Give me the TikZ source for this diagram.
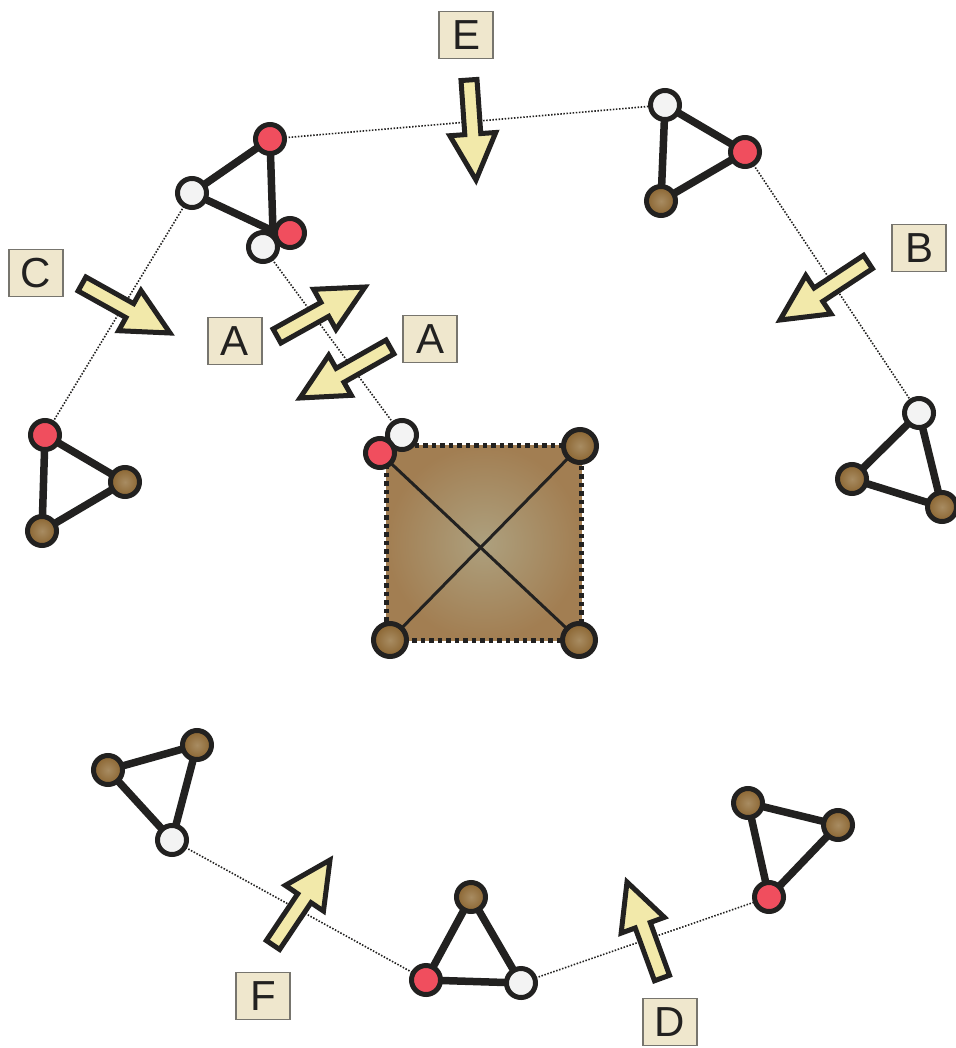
\documentclass[tikz,border=0pt]{standalone}
\usepackage{fontspec}
\setmainfont{Liberation Sans}
\usetikzlibrary{calc}
\definecolor{ol}{HTML}{222120}
\definecolor{nred}{HTML}{F04E5E}
\definecolor{nwhite}{HTML}{F3F3F3}
\definecolor{brin}{HTML}{A88C62}
\definecolor{brout}{HTML}{8A6430}
\definecolor{sqin}{HTML}{ADA07E}
\definecolor{sqout}{HTML}{A27E52}
\definecolor{labf}{HTML}{EFE7CD}
\definecolor{labb}{HTML}{77756E}
\definecolor{arrf}{HTML}{F2E9AA}
\tikzset{
  vbase/.style={circle,draw=ol,line width=5pt,minimum size=29pt,inner sep=0pt},
  vred/.style={vbase,fill=nred},
  vwhite/.style={vbase,fill=nwhite},
  vbrown/.style={vbase,inner color=brin,outer color=brout},
  vbig/.style={vbrown,minimum size=33pt},
  edge/.style={draw=ol,line width=7.5pt},
  diag/.style={draw=ol,line width=3pt},
  link/.style={draw=ol,line width=1.6pt,dash pattern=on 1.5pt off 1.6pt},
  lab/.style={draw=labb,line width=1.2pt,fill=labf,minimum width=54pt,minimum height=47pt,inner sep=0pt,font=\fontsize{42}{42}\selectfont,text=ol},
  arrsty/.style={draw=ol,fill=arrf,line width=5pt,line join=miter,miter limit=10},
  sqsty/.style={rectangle,minimum size=195pt,inner sep=0pt,inner color=sqin,outer color=sqout,draw=ol,line width=4.5pt,dash pattern=on 4.5pt off 4pt}
}
\newcommand{\barrow}[2]{%
  \coordinate (hb) at ($(#2)!46pt!(#1)$);
  \draw[arrsty] ($(#1)!8pt!90:(#2)$) -- ($(hb)!8pt!90:(#2)$) -- ($(hb)!23pt!90:(#2)$)
    -- (#2) -- ($(hb)!23pt!-90:(#2)$) -- ($(hb)!8pt!-90:(#2)$) -- ($(#1)!8pt!-90:(#2)$) -- cycle;
}
\begin{document}
\begin{tikzpicture}[x=1pt,y=-1pt]
\useasboundingbox (0,0) rectangle (955,1048);
% square
\node[sqsty] (sq) at (484,543) {};
% coordinates of nodes
\coordinate (tlR1) at (270,139);
\coordinate (tlW1) at (192,193);
\coordinate (tlV) at (273,231);
\coordinate (tlR2) at (290,233);
\coordinate (tlW2) at (263,247);
\coordinate (trW) at (665,105);
\coordinate (trR) at (745,152);
\coordinate (trB) at (661,201);
\coordinate (rW) at (919,413);
\coordinate (rB1) at (852,479);
\coordinate (rB2) at (942,507);
\coordinate (lR) at (45,435);
\coordinate (lB1) at (125,482);
\coordinate (lB2) at (42,531);
\coordinate (blB1) at (197,745);
\coordinate (blB2) at (108,770);
\coordinate (blW) at (172,840);
\coordinate (bcB) at (471,897);
\coordinate (bcR) at (426,980);
\coordinate (bcW) at (521,983);
\coordinate (brB1) at (748,803);
\coordinate (brB2) at (838,825);
\coordinate (brR) at (769,897);
\coordinate (sqW) at (402,435);
\coordinate (sqR) at (380,453);
\coordinate (sqTR) at (580,446);
\coordinate (sqBL) at (390,640);
\coordinate (sqBR) at (579,640);
% dotted links
\draw[link] (tlR1) -- (trW);
\draw[link] (tlW1) -- (lR);
\draw[link] (tlW2) -- (sqW);
\draw[link] (trR) -- (rW);
\draw[link] (blW) -- (bcR);
\draw[link] (bcW) -- (brR);
% diagonals
\draw[diag] (sqR) -- (sqBR);
\draw[diag] (sqTR) -- (sqBL);
% triangle edges
\draw[edge,line join=round] (tlR1) -- (tlW1) -- (tlV) -- cycle;
\draw[edge,line join=round] (trW) -- (trR) -- (trB) -- cycle;
\draw[edge,line join=round] (rW) -- (rB1) -- (rB2) -- cycle;
\draw[edge,line join=round] (lR) -- (lB1) -- (lB2) -- cycle;
\draw[edge,line join=round] (blB1) -- (blB2) -- (blW) -- cycle;
\draw[edge,line join=round] (bcB) -- (bcR) -- (bcW) -- cycle;
\draw[edge,line join=round] (brB1) -- (brB2) -- (brR) -- cycle;
% vertices
\node[vred] (n1) at (tlR1) {};
\node[vwhite] (n2) at (tlW1) {};
\node[vred] (n3) at (tlR2) {};
\node[vwhite] (n4) at (tlW2) {};
\node[vwhite] (n5) at (trW) {};
\node[vred] (n6) at (trR) {};
\node[vbrown] (n7) at (trB) {};
\node[vwhite] (n8) at (rW) {};
\node[vbrown] (n9) at (rB1) {};
\node[vbrown] (n10) at (rB2) {};
\node[vred] (n11) at (lR) {};
\node[vbrown] (n12) at (lB1) {};
\node[vbrown] (n13) at (lB2) {};
\node[vbrown] (n14) at (blB1) {};
\node[vbrown] (n15) at (blB2) {};
\node[vwhite] (n16) at (blW) {};
\node[vbrown] (n17) at (bcB) {};
\node[vred] (n18) at (bcR) {};
\node[vwhite] (n19) at (bcW) {};
\node[vbrown] (n20) at (brB1) {};
\node[vbrown] (n21) at (brB2) {};
\node[vred] (n22) at (brR) {};
\node[vwhite] (n23) at (sqW) {};
\node[vred] (n24) at (sqR) {};
\node[vbig] (n25) at (sqTR) {};
\node[vbig] (n26) at (sqBL) {};
\node[vbig] (n27) at (sqBR) {};
% arrows
\coordinate (eT) at (469,80); \coordinate (eH) at (476,180);
\coordinate (bT) at (868,262); \coordinate (bH) at (780,320);
\coordinate (cT) at (82,284); \coordinate (cH) at (170,333);
\coordinate (a1T) at (277,336); \coordinate (a1H) at (365,287);
\coordinate (a2T) at (390,347); \coordinate (a2H) at (300,398);
\coordinate (fT) at (273,945); \coordinate (fH) at (330,860);
\coordinate (dT) at (662,978); \coordinate (dH) at (627,882);
\barrow{eT}{eH}
\barrow{bT}{bH}
\barrow{cT}{cH}
\barrow{a1T}{a1H}
\barrow{a2T}{a2H}
\barrow{fT}{fH}
\barrow{dT}{dH}
% labels
\node[lab] (lE) at (466,35) {E};
\node[lab] (lB) at (919,248) {B};
\node[lab] (lC) at (36,273) {C};
\node[lab] (lA1) at (235,341) {A};
\node[lab] (lA2) at (430,339) {A};
\node[lab] (lF) at (263,996) {F};
\node[lab] (lD) at (670,1022) {D};
\end{tikzpicture}
\end{document}
